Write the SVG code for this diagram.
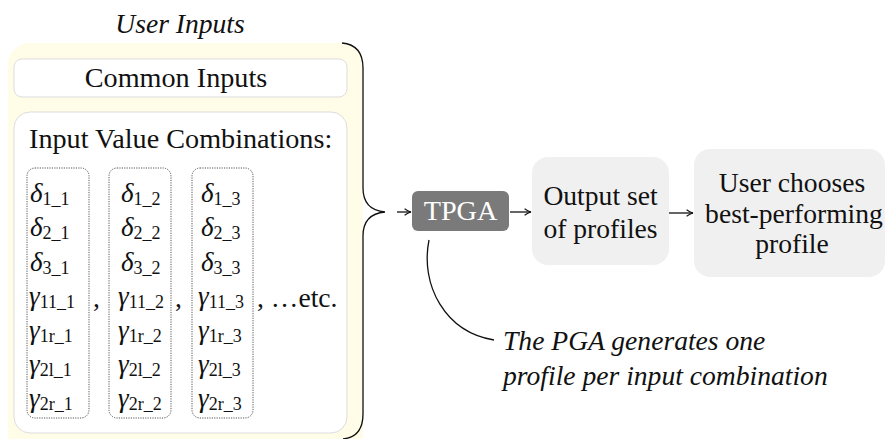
<svg xmlns="http://www.w3.org/2000/svg" width="886" height="439" viewBox="0 0 886 439" font-family="'Liberation Serif', 'Times New Roman', serif">
<style>
text{font-family:"Liberation Serif","Times New Roman",serif;fill:#111;}
.t{font-size:27.6px;}
.b{font-size:28.2px;}
.it{font-style:italic;}
.c{text-anchor:middle;}
.m{font-size:27px;font-style:italic;}
.s{font-size:18px;font-style:normal;}
.dot{fill:none;stroke:#555;stroke-width:1;stroke-dasharray:1.2 1.2;}
.conn{fill:none;stroke:#111;stroke-width:1.3;}
</style>
<defs>
<marker id="ah" viewBox="0 0 10 10" refX="9" refY="5" markerWidth="8" markerHeight="8" markerUnits="userSpaceOnUse" orient="auto">
<path d="M1,1 Q5,4 9,5 Q5,6 1,9" fill="none" stroke="#111" stroke-width="1.4"/>
</marker>
</defs>
<rect width="886" height="439" fill="#fff"/>

<g id="user-inputs">
<rect x="8" y="43" width="355" height="420" rx="22" fill="#fffce8"/>
<text class="t it c" x="180" y="33">User Inputs</text>
</g>

<g id="common-inputs">
<rect x="14" y="59" width="333" height="38" rx="8" fill="#fff" stroke="#ddd" stroke-width="1"/>
<text class="b c" x="176" y="87">Common Inputs</text>
</g>

<g id="input-combinations">
<rect x="14" y="112" width="333" height="321" rx="16" fill="#fff" stroke="#ddd" stroke-width="1"/>
<text class="b" x="29" y="148">Input Value Combinations:</text>
</g>

<g id="combo-1">
<rect class="dot" x="27" y="168" width="62" height="250" rx="8"/>
<text class="m" x="30" y="202">δ<tspan class="s" dy="3">1_1</tspan></text>
<text class="m" x="30" y="236">δ<tspan class="s" dy="3">2_1</tspan></text>
<text class="m" x="30" y="271">δ<tspan class="s" dy="3">3_1</tspan></text>
<text class="m" x="29" y="305">γ<tspan class="s" dy="3">11_1</tspan></text>
<text class="m" x="29" y="339">γ<tspan class="s" dy="3">1r_1</tspan></text>
<text class="m" x="29" y="373">γ<tspan class="s" dy="3">2l_1</tspan></text>
<text class="m" x="29" y="407">γ<tspan class="s" dy="3">2r_1</tspan></text>
</g>
<text class="t" x="93" y="307">,</text>

<g id="combo-2">
<rect class="dot" x="109" y="168" width="62" height="250" rx="8"/>
<text class="m" x="121" y="202">δ<tspan class="s" dy="3">1_2</tspan></text>
<text class="m" x="121" y="236">δ<tspan class="s" dy="3">2_2</tspan></text>
<text class="m" x="121" y="271">δ<tspan class="s" dy="3">3_2</tspan></text>
<text class="m" x="118" y="305">γ<tspan class="s" dy="3">11_2</tspan></text>
<text class="m" x="118" y="339">γ<tspan class="s" dy="3">1r_2</tspan></text>
<text class="m" x="118" y="373">γ<tspan class="s" dy="3">2l_2</tspan></text>
<text class="m" x="118" y="407">γ<tspan class="s" dy="3">2r_2</tspan></text>
</g>
<text class="t" x="175" y="307">,</text>

<g id="combo-3">
<rect class="dot" x="192" y="168" width="61" height="250" rx="8"/>
<text class="m" x="201" y="202">δ<tspan class="s" dy="3">1_3</tspan></text>
<text class="m" x="201" y="236">δ<tspan class="s" dy="3">2_3</tspan></text>
<text class="m" x="201" y="271">δ<tspan class="s" dy="3">3_3</tspan></text>
<text class="m" x="198" y="305">γ<tspan class="s" dy="3">11_3</tspan></text>
<text class="m" x="198" y="339">γ<tspan class="s" dy="3">1r_3</tspan></text>
<text class="m" x="198" y="373">γ<tspan class="s" dy="3">2l_3</tspan></text>
<text class="m" x="198" y="407">γ<tspan class="s" dy="3">2r_3</tspan></text>
</g>
<text class="t" x="257" y="307">, …etc.</text>

<g id="tpga">
<rect x="412" y="191" width="97" height="40" rx="6" fill="#7a7a7a"/>
<text class="b c" x="460.5" y="220" style="fill:#fff">TPGA</text>
</g>

<g id="output-set">
<rect x="532" y="157" width="137" height="108" rx="16" fill="#f0f0f0"/>
<text class="t c" x="600.5" y="205">Output set</text>
<text class="t c" x="600.5" y="238">of profiles</text>
</g>

<g id="user-chooses">
<rect x="694" y="149" width="191" height="128" rx="16" fill="#f0f0f0"/>
<text class="t c" x="792" y="192">User chooses</text>
<text class="t c" x="794" y="223">best-performing</text>
<text class="t c" x="792" y="253">profile</text>
</g>

<g id="annotation">
<text class="t it" x="503" y="350">The PGA generates one</text>
<text class="t it" x="503" y="385">profile per input combination</text>
</g>

<g id="connectors">
<path class="conn" d="M342 43 Q363 45 363 68 L363 188 Q363 210 385 212 Q363 214 363 236 L363 414 Q363 437 343 439" stroke-width="1.6"/>
<line class="conn" x1="397" y1="212" x2="411" y2="212" marker-end="url(#ah)"/>
<line class="conn" x1="510" y1="212" x2="531" y2="212" marker-end="url(#ah)"/>
<line class="conn" x1="669" y1="213" x2="693" y2="213" marker-end="url(#ah)"/>
<path class="conn" d="M429 240 C420 285 445 332 494 340" stroke-width="1"/>
</g>
</svg>
